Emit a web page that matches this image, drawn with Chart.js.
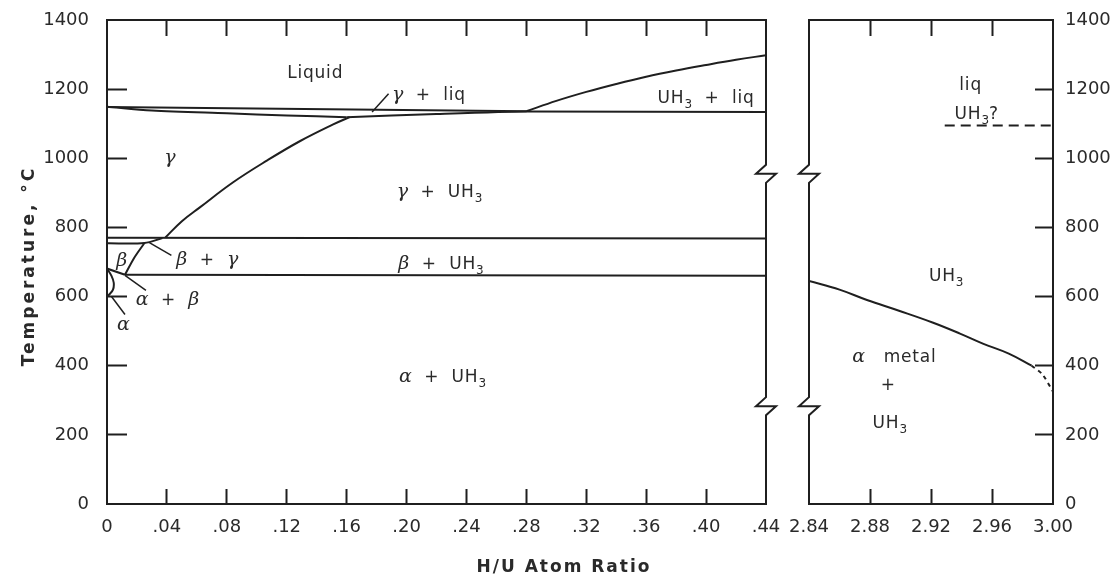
<!DOCTYPE html>
<html>
<head>
<meta charset="utf-8">
<title>Uranium–hydrogen phase diagram</title>
<script src="https://cdn.jsdelivr.net/npm/chart.js@4.4.1/dist/chart.umd.min.js"></script>
<style>
  html, body { margin: 0; padding: 0; background: #fff; }
  #wrap { position: relative; width: 1115px; height: 583px; overflow: hidden; }
  #wrap canvas { position: absolute; top: 0; }
  #uRich { left: 0; }
  #hRich { left: 788px; }
</style>
</head>
<body>
<div id="wrap">
  <canvas id="uRich" width="788" height="583"></canvas>
  <canvas id="hRich" width="327" height="583"></canvas>
</div>
<script>
// ---- axes -------------------------------------------------------------
const tempTicks = [0, 200, 400, 600, 800, 1000, 1200, 1400];
const tempLabels = ['0', '200', '400', '600', '800', '1000', '1200', '1400'];
const uRichTicks = [0, 0.04, 0.08, 0.12, 0.16, 0.20, 0.24, 0.28, 0.32, 0.36, 0.40, 0.44];
const uRichLabels = ['0', '.04', '.08', '.12', '.16', '.20', '.24', '.28', '.32', '.36', '.40', '.44'];
const hRichTicks = [2.84, 2.88, 2.92, 2.96, 3.00];
const hRichLabels = ['2.84', '2.88', '2.92', '2.96', '3.00'];

// ---- phase boundaries, uranium-rich side (H/U ratio, °C) --------------
const liqUpperX = [0, 0.28];
const liqUpperT = [1148, 1136];
const gammaSolidusX = [0, 0.03, 0.08, 0.12, 0.16];
const gammaSolidusT = [1149, 1138, 1130, 1124, 1119];
const monotecticX = [0.16, 0.22, 0.28, 0.44];
const monotecticT = [1119, 1128, 1135, 1134];
const uh3LiquidusX = [0.28, 0.30, 0.32, 0.34, 0.36, 0.38, 0.40, 0.42, 0.44];
const uh3LiquidusT = [1136, 1166, 1192, 1215, 1236, 1254, 1270, 1285, 1298];
const gammaSolvusX = [0.039, 0.05, 0.062, 0.084, 0.107, 0.129, 0.151, 0.162];
const gammaSolvusT = [771, 818, 858, 930, 994, 1050, 1098, 1119];
const gammaEutectoidX = [0, 0.44];
const gammaEutectoidT = [770, 768];
const betaGammaX = [0, 0.025, 0.037];
const betaGammaT = [754, 755, 769];
const betaSolvusX = [0.025, 0.018, 0.012];
const betaSolvusT = [755, 711, 663];
const betaEutectoidX = [0.012, 0.44];
const betaEutectoidT = [663, 660];
const alphaBetaX = [0, 0.012];
const alphaBetaT = [681, 663];
const alphaSolvusX = [0, 0.003, 0.0045, 0.004, 0.0015, 0];
const alphaSolvusT = [681, 660, 640, 620, 606, 601];

// leader lines from region names to their fields
const gammaLiqLeaderX = [0.188, 0.177];
const gammaLiqLeaderT = [1187, 1134];
const betaGammaLeaderX = [0.043, 0.028];
const betaGammaLeaderT = [719, 757];
const alphaBetaLeaderX = [0.026, 0.012];
const alphaBetaLeaderT = [618, 661];
const alphaLeaderX = [0.012, 0.003];
const alphaLeaderT = [548, 600];

// ---- phase boundaries, hydride side -----------------------------------
const hydrideSolvusX = [2.84, 2.86, 2.878, 2.899, 2.921, 2.939, 2.954, 2.971, 2.986];
const hydrideSolvusT = [645, 620, 590, 559, 525, 493, 464, 435, 400];
const hydrideSolvusEndX = [2.986, 2.993, 3.0];
const hydrideSolvusEndT = [400, 375, 325];
const hydrideMeltX = [2.929, 3.0];
const hydrideMeltT = [1095, 1095];

// ---- field names (text runs: n = roman, g = greek italic, s = subscript)
const uRichNames = [
  { x: 0.139, t: 1249, runs: [['Liquid', 'n']] },
  { x: 0.215, t: 1186, runs: [['\u03b3', 'g'], ['  +  liq', 'n']] },
  { x: 0.400, t: 1178, runs: [['UH', 'n'], ['3', 's'], ['  +  liq', 'n']] },
  { x: 0.042, t: 1004, runs: [['\u03b3', 'g']] },
  { x: 0.222, t: 905, runs: [['\u03b3', 'g'], ['  +  UH', 'n'], ['3', 's']] },
  { x: 0.223, t: 698, runs: [['\u03b2', 'g'], ['  +  UH', 'n'], ['3', 's']] },
  { x: 0.224, t: 371, runs: [['\u03b1', 'g'], ['  +  UH', 'n'], ['3', 's']] },
  { x: 0.0098, t: 707, runs: [['\u03b2', 'g']] },
  { x: 0.067, t: 710, runs: [['\u03b2', 'g'], ['  +  ', 'n'], ['\u03b3', 'g']] },
  { x: 0.0404, t: 594, runs: [['\u03b1', 'g'], ['  +  ', 'n'], ['\u03b2', 'g']] },
  { x: 0.011, t: 522, runs: [['\u03b1', 'g']] }
];
const hRichNames = [
  { x: 2.946, t: 1214, runs: [['liq', 'n']] },
  { x: 2.950, t: 1130, runs: [['UH', 'n'], ['3', 's'], ['?', 'n']] },
  { x: 2.930, t: 661, runs: [['UH', 'n'], ['3', 's']] },
  { x: 2.896, t: 429, runs: [['\u03b1', 'g'], ['   metal', 'n']] },
  { x: 2.892, t: 348, runs: [['+', 'n']] },
  { x: 2.893, t: 238, runs: [['UH', 'n'], ['3', 's']] }
];

// temperatures where the ratio axis is broken
const breakTemps = [955, 283];

// ---- styling ----------------------------------------------------------
const INK = '#1f1f1f';
const TEXT = '#2a2a2a';
const CLEAR = 'rgba(0,0,0,0)';
const tickFont = { family: '"DejaVu Sans", sans-serif', size: 18 };
const FONTS = {
  n: '17px "DejaVu Sans", sans-serif',
  g: 'italic 19px "DejaVu Serif", serif',
  s: '12px "DejaVu Sans", sans-serif'
};

function pts(xs, ts) { return xs.map((x, i) => ({ x: x, y: ts[i] })); }

function curve(xs, ts, extra) {
  return Object.assign({
    data: pts(xs, ts), borderColor: INK, borderWidth: 2, pointRadius: 0,
    pointHoverRadius: 0, tension: 0, fill: false, showLine: true
  }, extra || {});
}

function drawRuns(ctx, runs, cx, cy) {
  const widths = runs.map(([t, k]) => {
    ctx.font = FONTS[k];
    ctx.letterSpacing = k === 'n' ? '0.8px' : '0px';
    return ctx.measureText(t).width;
  });
  let x = cx - widths.reduce((a, b) => a + b, 0) / 2;
  runs.forEach(([t, k], i) => {
    ctx.font = FONTS[k];
    ctx.letterSpacing = k === 'n' ? '0.8px' : '0px';
    ctx.fillText(t, x, k === 's' ? cy + 11 : cy + 6);
    x += widths[i];
  });
  ctx.letterSpacing = '0px';
}

// field names placed through the chart's own scales
const fieldNames = {
  id: 'fieldNames',
  afterDatasetsDraw(chart, args, opts) {
    const { ctx, scales } = chart;
    ctx.save();
    ctx.fillStyle = TEXT;
    ctx.textAlign = 'left';
    ctx.textBaseline = 'alphabetic';
    opts.items.forEach(it => {
      drawRuns(ctx, it.runs, scales.x.getPixelForValue(it.x), scales.y.getPixelForValue(it.t));
    });
    ctx.restore();
  }
};

// zig-zag break marks on the inner panel edges
const axisBreak = {
  id: 'axisBreak',
  afterDraw(chart, args, opts) {
    const { ctx, chartArea, scales } = chart;
    const bx = opts.side === 'right' ? chartArea.right : chartArea.left;
    ctx.save();
    breakTemps.forEach(t => {
      const yc = scales.y.getPixelForValue(t);
      ctx.fillStyle = '#fff';
      ctx.fillRect(bx - 3, yc - 9, 6, 18);
      ctx.beginPath();
      ctx.moveTo(bx, yc - 11);
      ctx.lineTo(bx, yc - 9);
      ctx.lineTo(bx - 10, yc);
      ctx.lineTo(bx + 10, yc);
      ctx.lineTo(bx, yc + 9);
      ctx.lineTo(bx, yc + 11);
      ctx.strokeStyle = INK;
      ctx.lineWidth = 2;
      ctx.lineJoin = 'miter';
      ctx.stroke();
    });
    ctx.restore();
  }
};

// axis titles
const axisTitles = {
  id: 'axisTitles',
  afterDraw(chart) {
    const { ctx, chartArea } = chart;
    ctx.save();
    ctx.fillStyle = TEXT;
    ctx.font = 'bold 17px "DejaVu Sans", sans-serif';
    ctx.letterSpacing = '3px';
    ctx.textAlign = 'center';
    ctx.textBaseline = 'middle';
    ctx.save();
    ctx.translate(30, (chartArea.top + chartArea.bottom) / 2 + 4);
    ctx.rotate(-Math.PI / 2);
    ctx.fillText('Temperature, \u00b0C', 0, 0);
    ctx.restore();
    ctx.letterSpacing = '2px';
    ctx.fillText('H/U Atom Ratio', 564, 568);
    ctx.restore();
  }
};

function tickGrid(len, hideValues) {
  return {
    drawOnChartArea: false, drawTicks: true, tickLength: len, tickWidth: 2,
    color: c => (c.tick && hideValues.indexOf(c.tick.value) >= 0) ? CLEAR : INK
  };
}
const frame = { display: true, color: INK, width: 2 };
const bare = { drawOnChartArea: false, drawTicks: false, color: CLEAR };

function setTicks(values) {
  return s => { s.ticks = values.map(v => ({ value: v })); };
}

// fixed box size; label overhang is already covered by the layout padding
function fixBox(size) {
  return s => {
    if (s.isHorizontal()) { s.height = size; } else { s.width = size; }
    s.paddingTop = 0; s.paddingBottom = 0; s.paddingLeft = 0; s.paddingRight = 0;
  };
}

const common = {
  responsive: false,
  animation: false,
  devicePixelRatio: 1,
  events: [],
  plugins: { legend: { display: false }, tooltip: { enabled: false } }
};

// ---- uranium-rich panel ----------------------------------------------
new Chart(document.getElementById('uRich'), {
  type: 'line',
  data: {
    datasets: [
      curve(liqUpperX, liqUpperT),
      curve(gammaSolidusX, gammaSolidusT, { tension: 0.3 }),
      curve(monotecticX, monotecticT, { tension: 0.2 }),
      curve(uh3LiquidusX, uh3LiquidusT, { tension: 0.4 }),
      curve(gammaSolvusX, gammaSolvusT, { tension: 0.4 }),
      curve(gammaEutectoidX, gammaEutectoidT),
      curve(betaGammaX, betaGammaT, { tension: 0.3 }),
      curve(betaSolvusX, betaSolvusT, { tension: 0.3 }),
      curve(betaEutectoidX, betaEutectoidT),
      curve(alphaBetaX, alphaBetaT),
      curve(alphaSolvusX, alphaSolvusT, { tension: 0.4 }),
      curve(gammaLiqLeaderX, gammaLiqLeaderT, { borderWidth: 1.5 }),
      curve(betaGammaLeaderX, betaGammaLeaderT, { borderWidth: 1.5 }),
      curve(alphaBetaLeaderX, alphaBetaLeaderT, { borderWidth: 1.5 }),
      curve(alphaLeaderX, alphaLeaderT, { borderWidth: 1.5 })
    ]
  },
  options: Object.assign({}, common, {
    layout: { padding: { left: 0, right: 22, top: 20, bottom: 0 } },
    scales: {
      x: {
        type: 'linear', position: 'bottom', min: 0, max: 0.44,
        afterBuildTicks: setTicks(uRichTicks),
        afterFit: fixBox(79),
        ticks: { autoSkip: false, maxRotation: 0, padding: 28, font: tickFont, color: TEXT,
                 callback: (v, i) => uRichLabels[i] },
        grid: tickGrid(-15, [0, 0.44]),
        border: frame
      },
      xTop: {
        type: 'linear', position: 'top', min: 0, max: 0.44,
        afterBuildTicks: setTicks(uRichTicks),
        afterFit: fixBox(0),
        ticks: { display: false },
        grid: tickGrid(-16, [0, 0.44]),
        border: frame
      },
      y: {
        type: 'linear', position: 'left', min: 0, max: 1400,
        afterBuildTicks: setTicks(tempTicks),
        afterFit: fixBox(107),
        ticks: { padding: 38, font: tickFont, color: TEXT, callback: (v, i) => tempLabels[i] },
        grid: tickGrid(-20, [0, 1400]),
        border: frame
      },
      yEdge: {
        type: 'linear', position: 'right', min: 0, max: 1400,
        afterFit: fixBox(0),
        ticks: { display: false },
        grid: bare,
        border: frame
      }
    },
    plugins: Object.assign({}, common.plugins, {
      fieldNames: { items: uRichNames },
      axisBreak: { side: 'right' }
    })
  }),
  plugins: [fieldNames, axisBreak, axisTitles]
});

// ---- hydride panel ----------------------------------------------------
new Chart(document.getElementById('hRich'), {
  type: 'line',
  data: {
    datasets: [
      curve(hydrideSolvusX, hydrideSolvusT, { tension: 0.4 }),
      curve(hydrideSolvusEndX, hydrideSolvusEndT, { borderDash: [4, 4], tension: 0.3 }),
      curve(hydrideMeltX, hydrideMeltT, { borderDash: [10, 6] })
    ]
  },
  options: Object.assign({}, common, {
    layout: { padding: { left: 21, right: 0, top: 20, bottom: 0 } },
    scales: {
      x: {
        type: 'linear', position: 'bottom', min: 2.84, max: 3.0,
        afterBuildTicks: setTicks(hRichTicks),
        afterFit: fixBox(79),
        ticks: { autoSkip: false, maxRotation: 0, padding: 28, font: tickFont, color: TEXT,
                 callback: (v, i) => hRichLabels[i] },
        grid: tickGrid(-15, [2.84, 3.0]),
        border: frame
      },
      xTop: {
        type: 'linear', position: 'top', min: 2.84, max: 3.0,
        afterBuildTicks: setTicks(hRichTicks),
        afterFit: fixBox(0),
        ticks: { display: false },
        grid: tickGrid(-16, [2.84, 3.0]),
        border: frame
      },
      y: {
        type: 'linear', position: 'right', min: 0, max: 1400,
        afterBuildTicks: setTicks(tempTicks),
        afterFit: fixBox(62),
        ticks: { padding: 30, font: tickFont, color: TEXT, callback: (v, i) => tempLabels[i] },
        grid: tickGrid(-18, [0, 1400]),
        border: frame
      },
      yEdge: {
        type: 'linear', position: 'left', min: 0, max: 1400,
        afterFit: fixBox(0),
        ticks: { display: false },
        grid: bare,
        border: frame
      }
    },
    plugins: Object.assign({}, common.plugins, {
      fieldNames: { items: hRichNames },
      axisBreak: { side: 'left' }
    })
  }),
  plugins: [fieldNames, axisBreak]
});
</script>
</body>
</html>
